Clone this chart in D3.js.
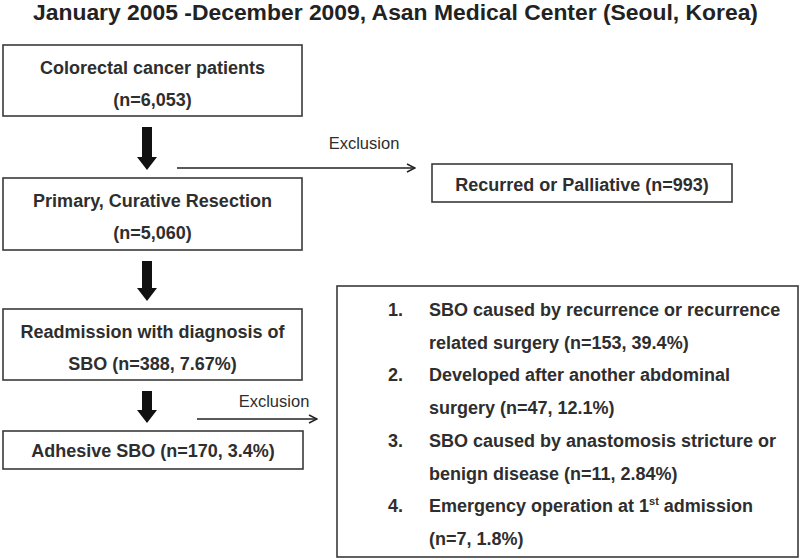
<!DOCTYPE html>
<html><head><meta charset="utf-8">
<script src="https://cdn.jsdelivr.net/npm/d3@7/dist/d3.min.js"></script>
<style>body{margin:0;background:#fff}</style>
</head><body>
<script>
// ---- data ----
const titleText = "January 2005 -December 2009, Asan Medical Center (Seoul, Korea)";
const stepLines = [
  ["Colorectal cancer patients", "(n=6,053)"],
  ["Primary, Curative Resection", "(n=5,060)"],
  ["Readmission with diagnosis of", "SBO (n=388, 7.67%)"],
  ["Adhesive SBO (n=170, 3.4%)"]
];
const exclusionLabels = ["Exclusion", "Exclusion"];
const firstExclusion = ["Recurred or Palliative (n=993)"];
const exclusionNumbers = ["1.", "2.", "3.", "4."];
const exclusionItems = [
  ["SBO caused by recurrence or recurrence", "related surgery (n=153, 39.4%)"],
  ["Developed after another abdominal", "surgery (n=47, 12.1%)"],
  ["SBO caused by anastomosis stricture or", "benign disease (n=11, 2.84%)"],
  ["Emergency operation at 1|st| admission", "(n=7, 1.8%)"]
];

// ---- layout ----
const W = 800, H = 560;
const stepBoxes = [
  {x0: 3, y0: 45, x1: 302, y1: 116},
  {x0: 3, y0: 178, x1: 302, y1: 250},
  {x0: 3, y0: 309, x1: 302, y1: 380},
  {x0: 3, y0: 431, x1: 303, y1: 469}
];
const lineGap = 32;
const textColor = "#2e2e2e";
const boxStroke = "#3a3a3a";
const font = "'Liberation Sans', Arial, Helvetica, sans-serif";

const svg = d3.select("body").append("svg")
  .attr("width", W).attr("height", H)
  .style("font-family", font);

// Title
const title = svg.append("text")
  .attr("x", 33).attr("y", 20)
  .attr("font-size", 21.5).attr("font-weight", "bold")
  .style("font-family", "'Liberation Sans Narrow', 'Arial Narrow', 'Liberation Sans', sans-serif")
  .attr("fill", "#222")
  .text(titleText);
const natural = title.node().getComputedTextLength();
if (Math.abs(natural - 725) > 2) {
  title.attr("textLength", 725).attr("lengthAdjust", "spacingAndGlyphs");
}

// step boxes
const steps = svg.selectAll("g.step").data(stepLines).join("g").attr("class", "step");
steps.append("rect")
  .attr("x", (d, i) => stepBoxes[i].x0)
  .attr("y", (d, i) => stepBoxes[i].y0)
  .attr("width", (d, i) => stepBoxes[i].x1 - stepBoxes[i].x0)
  .attr("height", (d, i) => stepBoxes[i].y1 - stepBoxes[i].y0)
  .attr("fill", "#fff").attr("stroke", boxStroke).attr("stroke-width", 1.6);
steps.each(function(lines, i) {
  const b = stepBoxes[i];
  const cx = (b.x0 + b.x1) / 2;
  const h = b.y1 - b.y0;
  const firstBase = lines.length === 1 ? b.y0 + h / 2 + 6.5 : b.y0 + 29;
  d3.select(this).selectAll("text").data(lines).join("text")
    .attr("x", cx)
    .attr("y", (t, j) => firstBase + j * lineGap)
    .attr("text-anchor", "middle")
    .attr("font-size", 18).attr("font-weight", "bold")
    .attr("fill", textColor)
    .text(t => t);
});

// fat down arrows between step boxes
const arrowX = 147;
const shaftW = 10, headW = 20, headH = 13;
const arrowPairs = d3.pairs(stepBoxes);
svg.selectAll("path.fat").data(arrowPairs).join("path").attr("class", "fat")
  .attr("d", ([a, b]) => {
    const top = a.y1 + 11, tip = b.y0 - 8;
    const hb = tip - headH;
    const p = d3.path();
    p.moveTo(arrowX - shaftW / 2, top);
    p.lineTo(arrowX + shaftW / 2, top);
    p.lineTo(arrowX + shaftW / 2, hb);
    p.lineTo(arrowX + headW / 2, hb);
    p.lineTo(arrowX, tip);
    p.lineTo(arrowX - headW / 2, hb);
    p.lineTo(arrowX - shaftW / 2, hb);
    p.closePath();
    return p.toString();
  })
  .attr("fill", "#111");

// thin exclusion arrows
const exclArrows = [
  {x0: 177, x1: 415, y: 168, lx: 364, ly: 149},
  {x0: 197, x1: 317, y: 419, lx: 274, ly: 407}
];
svg.append("defs").append("marker")
  .attr("id", "ah").attr("viewBox", "0 0 10 10")
  .attr("refX", 9).attr("refY", 5)
  .attr("markerWidth", 10).attr("markerHeight", 10)
  .attr("markerUnits", "userSpaceOnUse")
  .attr("orient", "auto")
  .append("path").attr("d", "M1,1 L9,5 L1,9").attr("fill", "none")
  .attr("stroke", "#222").attr("stroke-width", 1.5);
const ex = svg.selectAll("g.excl").data(exclusionLabels).join("g").attr("class", "excl");
ex.append("line")
  .attr("x1", (d, i) => exclArrows[i].x0).attr("x2", (d, i) => exclArrows[i].x1)
  .attr("y1", (d, i) => exclArrows[i].y).attr("y2", (d, i) => exclArrows[i].y)
  .attr("stroke", "#222").attr("stroke-width", 1.5)
  .attr("marker-end", "url(#ah)");
ex.append("text")
  .attr("x", (d, i) => exclArrows[i].lx).attr("y", (d, i) => exclArrows[i].ly)
  .attr("text-anchor", "middle").attr("font-size", 16.5)
  .attr("fill", textColor).text(d => d);

// first exclusion box
const rb = {x0: 432, y0: 164, x1: 732, y1: 202};
svg.append("rect")
  .attr("x", rb.x0).attr("y", rb.y0)
  .attr("width", rb.x1 - rb.x0).attr("height", rb.y1 - rb.y0)
  .attr("fill", "#fff").attr("stroke", boxStroke).attr("stroke-width", 1.6);
svg.selectAll("text.rec").data(firstExclusion).join("text").attr("class", "rec")
  .attr("x", (rb.x0 + rb.x1) / 2).attr("y", 191)
  .attr("text-anchor", "middle").attr("font-size", 18).attr("font-weight", "bold")
  .attr("fill", textColor).text(d => d);

// second exclusion box with list
const lb = {x0: 337, y0: 286, x1: 798, y1: 557};
svg.append("rect")
  .attr("x", lb.x0).attr("y", lb.y0)
  .attr("width", lb.x1 - lb.x0).attr("height", lb.y1 - lb.y0)
  .attr("fill", "#fff").attr("stroke", boxStroke).attr("stroke-width", 1.6);
const itemY = d3.scaleLinear().domain([0, 7]).range([316, 545]);
const numX = 388, itemX = 429;
const items = svg.selectAll("g.item").data(exclusionItems).join("g").attr("class", "item");
items.append("text")
  .attr("x", numX).attr("y", (d, i) => itemY(i * 2))
  .attr("font-size", 18).attr("font-weight", "bold").attr("fill", textColor)
  .text((d, i) => exclusionNumbers[i]);
items.each(function(lines, i) {
  d3.select(this).selectAll("text.line").data(lines).join("text").attr("class", "line")
    .attr("x", itemX).attr("y", (t, j) => itemY(i * 2 + j))
    .attr("font-size", 18).attr("font-weight", "bold").attr("fill", textColor)
    .each(function(t) {
      const parts = t.split("|");
      const el = d3.select(this);
      parts.forEach((p, k) => {
        const ts = el.append("tspan").text(p);
        if (k === 1) ts.attr("font-size", 11).attr("dy", -7);
        if (k === 2) ts.attr("dy", 7);
      });
    });
});
</script>
</body></html>
